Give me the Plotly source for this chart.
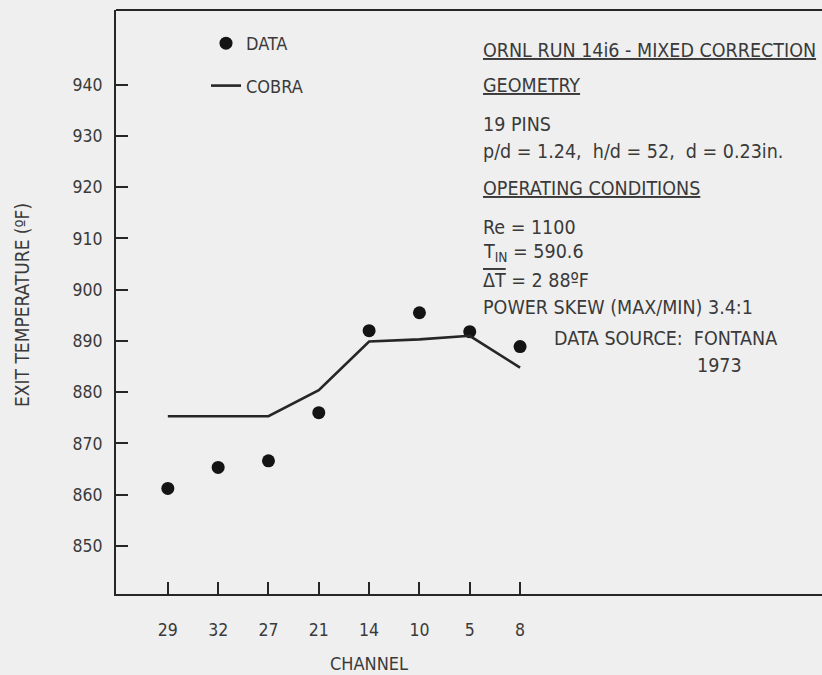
import plotly.graph_objects as go

# Channel order along the x axis and measured / predicted exit temperatures (F)
channels = ["29", "32", "27", "21", "14", "10", "5", "8"]
data_temp = [861.2, 865.3, 866.6, 876.0, 892.0, 895.5, 891.8, 888.9]
cobra_temp = [875.3, 875.3, 875.3, 880.4, 889.9, 890.3, 891.0, 884.8]

y_ticks = [850, 860, 870, 880, 890, 900, 910, 920, 930, 940]

W, H = 822, 675
ML, MR, MT, MB = 116, 0, 10, 81
PW, PH = W - ML - MR, H - MT - MB

FONT = "DejaVu Sans Condensed, Liberation Sans Narrow, Arial Narrow, sans-serif"
INK = "#3a3a3a"
LINE = "#262626"
BG = "#efefef"


def px(x):
    return (x - ML) / PW


def py(y):
    return 1 - (y - MT) / PH


idx = list(range(len(channels)))

fig = go.Figure()
fig.add_trace(go.Scatter(
    x=idx, y=data_temp, mode="markers", name="DATA",
    marker=dict(size=13, color="#141414"), legendgroup="a",
))
fig.add_trace(go.Scatter(
    x=idx, y=cobra_temp, mode="lines", name="COBRA",
    line=dict(color=LINE, width=2.6), legendgroup="b",
))

fig.update_layout(
    width=W, height=H,
    margin=dict(l=ML, r=MR, t=MT, b=MB),
    paper_bgcolor=BG, plot_bgcolor=BG,
    font=dict(family=FONT, size=18, color=INK),
    showlegend=True,
    legend=dict(
        x=px(206), y=py(25), xanchor="left", yanchor="top",
        bgcolor="rgba(0,0,0,0)", font=dict(size=18, color=INK),
        tracegroupgap=16,
    ),
    xaxis=dict(
        range=[-1.03, 13.0], tickvals=idx, ticktext=channels,
        showgrid=False, zeroline=False,
        showline=True, linecolor=LINE, linewidth=2,
        ticks="inside", ticklen=12, tickwidth=1.5, tickcolor=LINE,
        ticklabelstandoff=19, tickfont=dict(size=17.5),
    ),
    yaxis=dict(
        range=[840.6, 954.6], tickvals=y_ticks,
        showgrid=False, zeroline=False,
        showline=True, linecolor=LINE, linewidth=2,
        ticks="inside", ticklen=12, tickwidth=1.5, tickcolor=LINE,
        ticklabelstandoff=8, tickfont=dict(size=17.5),
    ),
)

# top frame line
fig.add_shape(type="line", xref="paper", yref="paper", x0=0, x1=1, y0=1, y1=1,
              line=dict(color=LINE, width=2))

notes = [
    (481, 50, "<u>ORNL RUN 14i6 - MIXED CORRECTION</u>"),
    (481, 86, "<u>GEOMETRY</u>"),
    (481, 125, "19 PINS"),
    (481, 152, "p/d = 1.24,  h/d = 52,  d = 0.23in."),
    (481, 188, "<u>OPERATING CONDITIONS</u>"),
    (481, 227, "Re = 1100"),
    (481, 252, "T<sub>IN</sub> = 590.6"),
    (481, 280, "<span style=\"text-decoration:overline\">ΔT</span> = 2 88ºF"),
    (481, 307, "POWER SKEW (MAX/MIN) 3.4:1"),
    (552, 338, "DATA SOURCE:  FONTANA"),
    (695, 365, "1973"),
]
for x, y, t in notes:
    fig.add_annotation(x=px(x), y=py(y), xref="paper", yref="paper", text=t,
                       showarrow=False, xanchor="left", yanchor="middle",
                       font=dict(size=19.5, color=INK))

fig.add_annotation(x=px(22), y=py(305), xref="paper", yref="paper",
                   text="EXIT TEMPERATURE (ºF)", textangle=-90, showarrow=False,
                   xanchor="center", yanchor="middle", font=dict(size=19, color=INK))
fig.add_annotation(x=4.0, y=py(663), xref="x", yref="paper", text="CHANNEL",
                   showarrow=False, xanchor="center", yanchor="middle",
                   font=dict(size=18, color=INK))

fig.write_html("out.html")
